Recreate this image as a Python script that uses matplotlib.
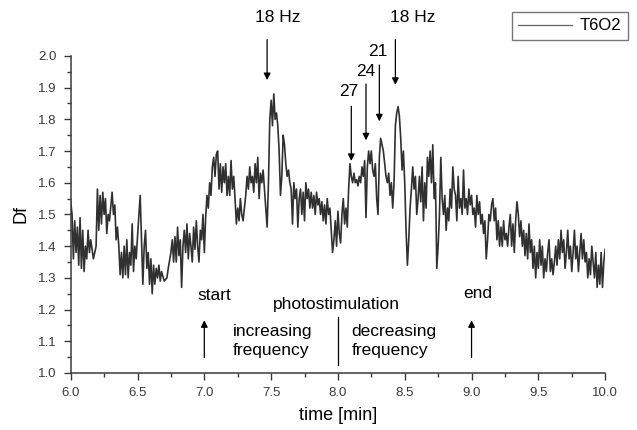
import numpy as np
import matplotlib.pyplot as plt
from matplotlib.ticker import MultipleLocator

plt.rcParams['font.family'] = ['Liberation Sans', 'DejaVu Sans']

# time [min] and Df values
t = [6.00, 6.01, 6.02, 6.03, 6.04, 6.05, 6.06, 6.07, 6.08, 6.09,
     6.10, 6.11, 6.12, 6.13, 6.14, 6.15, 6.17, 6.19, 6.20, 6.21,
     6.22, 6.23, 6.24, 6.25, 6.26, 6.27, 6.28, 6.29, 6.31, 6.32,
     6.33, 6.34, 6.35, 6.36, 6.37, 6.38, 6.39, 6.40, 6.41, 6.42,
     6.43, 6.44, 6.45, 6.46, 6.47, 6.48, 6.49, 6.50, 6.52, 6.54,
     6.55, 6.56, 6.57, 6.58, 6.59, 6.60, 6.61, 6.62, 6.63, 6.64,
     6.65, 6.66, 6.67, 6.68, 6.70, 6.72, 6.73, 6.75, 6.76, 6.77,
     6.78, 6.79, 6.80, 6.81, 6.82, 6.83, 6.84, 6.85, 6.86, 6.87,
     6.88, 6.89, 6.90, 6.91, 6.92, 6.93, 6.94, 6.95, 6.96, 6.97,
     6.98, 6.99, 7.00, 7.01, 7.02, 7.03, 7.04, 7.05, 7.06, 7.07,
     7.08, 7.09, 7.10, 7.11, 7.12, 7.13, 7.14, 7.15, 7.16, 7.17,
     7.18, 7.19, 7.20, 7.21, 7.22, 7.23, 7.24, 7.25, 7.26, 7.27,
     7.28, 7.29, 7.30, 7.31, 7.32, 7.33, 7.34, 7.35, 7.36, 7.37,
     7.38, 7.39, 7.40, 7.41, 7.42, 7.43, 7.44, 7.45, 7.46, 7.47,
     7.48, 7.49, 7.50, 7.51, 7.52, 7.53, 7.54, 7.55, 7.56, 7.57,
     7.58, 7.59, 7.60, 7.61, 7.62, 7.63, 7.64, 7.65, 7.66, 7.67,
     7.68, 7.69, 7.70, 7.71, 7.72, 7.73, 7.74, 7.75, 7.76, 7.77,
     7.78, 7.79, 7.80, 7.81, 7.82, 7.83, 7.84, 7.85, 7.86, 7.87,
     7.88, 7.89, 7.90, 7.91, 7.92, 7.93, 7.94, 7.95, 7.96, 7.97,
     7.98, 7.99, 8.00, 8.01, 8.02, 8.03, 8.04, 8.05, 8.06, 8.07,
     8.08, 8.09, 8.10, 8.11, 8.12, 8.13, 8.14, 8.15, 8.16, 8.17,
     8.18, 8.19, 8.20, 8.21, 8.22, 8.23, 8.24, 8.25, 8.26, 8.27,
     8.28, 8.29, 8.30, 8.31, 8.32, 8.33, 8.34, 8.35, 8.36, 8.37,
     8.38, 8.39, 8.40, 8.41, 8.42, 8.43, 8.44, 8.45, 8.46, 8.47,
     8.48, 8.49, 8.50, 8.51, 8.52, 8.53, 8.54, 8.55, 8.56, 8.57,
     8.58, 8.59, 8.60, 8.61, 8.62, 8.63, 8.64, 8.65, 8.66, 8.67,
     8.68, 8.69, 8.70, 8.71, 8.72, 8.73, 8.74, 8.75, 8.76, 8.77,
     8.78, 8.79, 8.80, 8.81, 8.82, 8.83, 8.84, 8.85, 8.86, 8.87,
     8.88, 8.89, 8.90, 8.91, 8.92, 8.93, 8.94, 8.95, 8.96, 8.97,
     8.98, 8.99, 9.00, 9.01, 9.02, 9.03, 9.04, 9.05, 9.06, 9.07,
     9.08, 9.09, 9.10, 9.11, 9.12, 9.13, 9.14, 9.15, 9.16, 9.17,
     9.18, 9.19, 9.20, 9.21, 9.22, 9.23, 9.24, 9.25, 9.26, 9.27,
     9.28, 9.29, 9.30, 9.31, 9.32, 9.33, 9.34, 9.35, 9.36, 9.37,
     9.38, 9.39, 9.40, 9.41, 9.42, 9.43, 9.44, 9.45, 9.46, 9.47,
     9.48, 9.49, 9.50, 9.51, 9.52, 9.53, 9.54, 9.55, 9.56, 9.57,
     9.58, 9.59, 9.60, 9.61, 9.62, 9.63, 9.64, 9.65, 9.66, 9.67,
     9.68, 9.69, 9.70, 9.71, 9.72, 9.73, 9.74, 9.75, 9.76, 9.77,
     9.78, 9.79, 9.80, 9.81, 9.82, 9.83, 9.84, 9.85, 9.86, 9.87,
     9.88, 9.89, 9.90, 9.91, 9.92, 9.93, 9.94, 9.95, 9.96, 9.97,
     9.98, 9.99, 10.00]
df = [1.54, 1.50, 1.36, 1.48, 1.38, 1.46, 1.34, 1.49, 1.33, 1.45,
      1.32, 1.40, 1.36, 1.45, 1.38, 1.42, 1.36, 1.40, 1.58, 1.45,
      1.56, 1.47, 1.57, 1.50, 1.55, 1.44, 1.50, 1.48, 1.57, 1.50,
      1.53, 1.42, 1.46, 1.40, 1.31, 1.38, 1.30, 1.40, 1.31, 1.42,
      1.30, 1.38, 1.34, 1.47, 1.32, 1.40, 1.36, 1.43, 1.56, 1.28,
      1.40, 1.45, 1.33, 1.38, 1.28, 1.36, 1.25, 1.34, 1.28, 1.33,
      1.30, 1.34, 1.29, 1.32, 1.29, 1.30, 1.33, 1.38, 1.42, 1.35,
      1.43, 1.35, 1.46, 1.37, 1.42, 1.27, 1.40, 1.45, 1.38, 1.47,
      1.36, 1.44, 1.40, 1.35, 1.46, 1.39, 1.48, 1.40, 1.35, 1.45,
      1.42, 1.50, 1.38, 1.49, 1.56, 1.52, 1.60, 1.56, 1.65, 1.68,
      1.62, 1.69, 1.70, 1.58, 1.66, 1.57, 1.65, 1.60, 1.66, 1.56,
      1.62, 1.56, 1.67, 1.58, 1.62, 1.55, 1.47, 1.52, 1.48, 1.55,
      1.50, 1.48, 1.52, 1.56, 1.62, 1.58, 1.65, 1.60, 1.62, 1.57,
      1.66, 1.60, 1.68, 1.55, 1.63, 1.60, 1.64, 1.58, 1.52, 1.46,
      1.60, 1.80, 1.86, 1.78, 1.88, 1.80, 1.82, 1.78, 1.70, 1.56,
      1.62, 1.75, 1.72, 1.66, 1.62, 1.64, 1.60, 1.58, 1.47, 1.60,
      1.55, 1.58, 1.46, 1.55, 1.58, 1.50, 1.57, 1.48, 1.60, 1.55,
      1.58, 1.52, 1.57, 1.52, 1.56, 1.50, 1.57, 1.53, 1.55, 1.50,
      1.54, 1.48, 1.53, 1.47, 1.55, 1.50, 1.52, 1.45, 1.38, 1.42,
      1.48, 1.40, 1.51, 1.44, 1.41, 1.50, 1.55, 1.47, 1.52, 1.46,
      1.58, 1.66, 1.62, 1.60, 1.63, 1.60, 1.61, 1.59, 1.62, 1.60,
      1.65, 1.62, 1.67, 1.49, 1.65, 1.70, 1.66, 1.70, 1.64, 1.62,
      1.66, 1.55, 1.50, 1.68, 1.74, 1.72, 1.70, 1.66, 1.62, 1.60,
      1.63, 1.56, 1.60, 1.52, 1.60, 1.78, 1.82, 1.84, 1.81, 1.74,
      1.64, 1.70, 1.60, 1.45, 1.34, 1.42, 1.52, 1.58, 1.65, 1.58,
      1.62, 1.50, 1.55, 1.62, 1.54, 1.65, 1.48, 1.60, 1.52, 1.68,
      1.62, 1.70, 1.60, 1.72, 1.55, 1.60, 1.33, 1.40, 1.50, 1.68,
      1.55, 1.50, 1.56, 1.45, 1.52, 1.48, 1.58, 1.52, 1.65, 1.58,
      1.56, 1.48, 1.62, 1.52, 1.55, 1.50, 1.64, 1.52, 1.55, 1.50,
      1.58, 1.53, 1.56, 1.50, 1.52, 1.46, 1.56, 1.50, 1.54, 1.47,
      1.50, 1.44, 1.48, 1.36, 1.42, 1.50, 1.48, 1.53, 1.55, 1.48,
      1.52, 1.42, 1.48, 1.40, 1.46, 1.40, 1.48, 1.42, 1.44, 1.40,
      1.46, 1.50, 1.40, 1.47, 1.38, 1.48, 1.54, 1.50, 1.43, 1.48,
      1.40, 1.45, 1.37, 1.44, 1.36, 1.47, 1.38, 1.42, 1.33, 1.40,
      1.30, 1.38, 1.33, 1.42, 1.34, 1.40, 1.30, 1.36, 1.32, 1.38,
      1.42, 1.32, 1.36, 1.31, 1.35, 1.40, 1.34, 1.42, 1.36, 1.45,
      1.38, 1.42, 1.33, 1.38, 1.45, 1.36, 1.40, 1.32, 1.38, 1.45,
      1.36, 1.40, 1.32, 1.38, 1.44, 1.36, 1.42, 1.35, 1.38, 1.30,
      1.36, 1.31, 1.40, 1.35, 1.30, 1.38, 1.27, 1.34, 1.28, 1.38,
      1.27, 1.35, 1.39]

fig = plt.figure(figsize=(6.37, 4.30), dpi=100)
ax = fig.add_axes([0.111, 0.1326, 0.839, 0.7374])

ax.plot(t, df, color='#303030', lw=1.2, label='T6O2')

ax.set_xlim(6.0, 10.0)
ax.set_ylim(1.0, 2.0)
ax.xaxis.set_major_locator(MultipleLocator(0.5))
ax.xaxis.set_minor_locator(MultipleLocator(0.25))
ax.yaxis.set_major_locator(MultipleLocator(0.1))
ax.yaxis.set_minor_locator(MultipleLocator(0.05))
ax.xaxis.set_major_formatter(plt.FormatStrFormatter('%.1f'))
ax.yaxis.set_major_formatter(plt.FormatStrFormatter('%.1f'))
ax.tick_params(which='major', direction='out', length=5, width=1, pad=5,
               labelsize=9.5, colors='#3a3a3a')
ax.tick_params(which='minor', direction='out', length=3, width=1, colors='#3a3a3a')
ax.spines['top'].set_visible(False)
ax.spines['right'].set_visible(False)
for s in ('left', 'bottom'):
    ax.spines[s].set_color('#3a3a3a')
    ax.spines[s].set_linewidth(1.1)

ax.set_xlabel('time [min]', fontsize=13, labelpad=6)
ax.set_ylabel('Df', fontsize=13, labelpad=6)

fs = 12.5
arr = dict(arrowstyle='-|>', color='black', lw=0.9, mutation_scale=10)

# frequency markers above the trace
ax.text(7.55, 2.12, '18 Hz', ha='center', va='center', fontsize=fs, clip_on=False)
ax.annotate('', xy=(7.47, 1.915), xytext=(7.47, 2.06), arrowprops=arr, annotation_clip=False)
ax.text(8.56, 2.12, '18 Hz', ha='center', va='center', fontsize=fs, clip_on=False)
ax.annotate('', xy=(8.43, 1.90), xytext=(8.43, 2.06), arrowprops=arr, annotation_clip=False)
ax.text(8.30, 2.015, '21', ha='center', va='center', fontsize=fs, clip_on=False)
ax.annotate('', xy=(8.31, 1.785), xytext=(8.31, 1.98), arrowprops=arr)
ax.text(8.21, 1.95, '24', ha='center', va='center', fontsize=fs)
ax.annotate('', xy=(8.21, 1.725), xytext=(8.21, 1.92), arrowprops=arr)
ax.text(8.08, 1.888, '27', ha='center', va='center', fontsize=fs)
ax.annotate('', xy=(8.10, 1.66), xytext=(8.10, 1.85), arrowprops=arr)

# photostimulation window
ax.text(7.075, 1.243, 'start', ha='center', va='center', fontsize=fs)
ax.annotate('', xy=(7.0, 1.175), xytext=(7.0, 1.04), arrowprops=arr)
ax.text(9.05, 1.25, 'end', ha='center', va='center', fontsize=fs)
ax.annotate('', xy=(9.0, 1.175), xytext=(9.0, 1.04), arrowprops=arr)
ax.text(7.99, 1.215, 'photostimulation', ha='center', va='center', fontsize=fs)
ax.plot([8.0, 8.0], [1.025, 1.177], color='black', lw=0.9)
ax.text(7.21, 1.10, 'increasing\nfrequency', ha='left', va='center', fontsize=fs, linespacing=1.3)
ax.text(8.10, 1.10, 'decreasing\nfrequency', ha='left', va='center', fontsize=fs, linespacing=1.3)

leg = ax.legend(loc='upper right', bbox_to_anchor=(1.043, 1.139), fontsize=12,
                frameon=True, fancybox=False, handlelength=3.2, handletextpad=0.5,
                borderpad=0.4, borderaxespad=0)
leg.get_frame().set_edgecolor('#555555')
leg.get_frame().set_linewidth(1.0)
leg.get_lines()[0].set_linewidth(0.9)
leg.get_lines()[0].set_color('#666666')

fig.savefig('out.png', dpi=100)
